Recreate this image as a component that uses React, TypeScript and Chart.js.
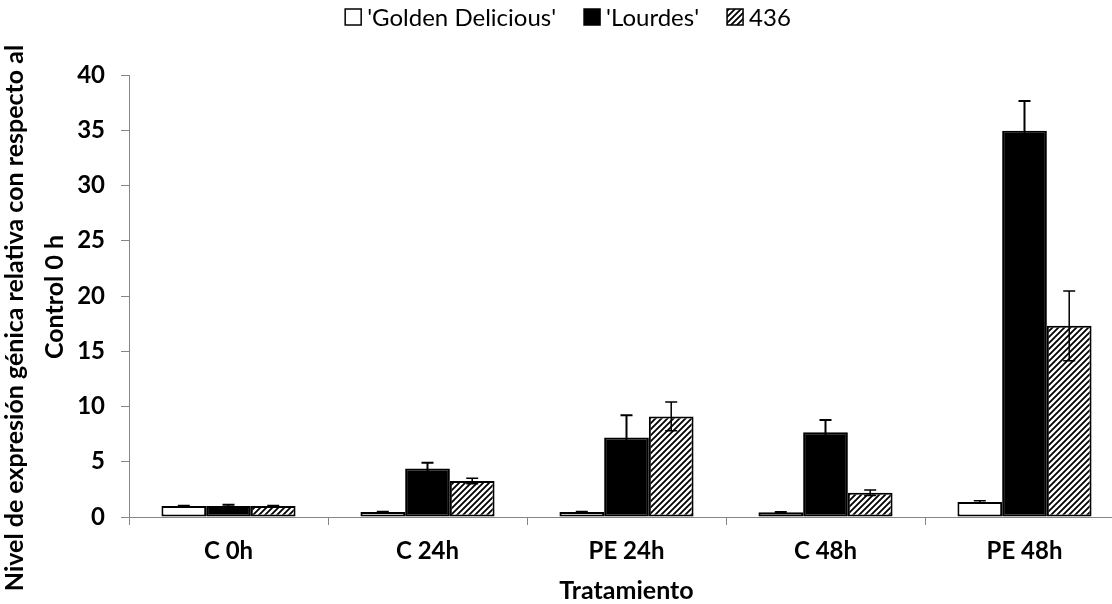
import React, { useEffect, useRef } from 'react';
import { Chart, registerables } from 'chart.js';

Chart.register(...registerables);

const categories = ['C 0h', 'C 24h', 'PE 24h', 'C 48h', 'PE 48h'];
const seriesNames = ["'Golden Delicious'", "'Lourdes'", '436'];
const golden = [1.0, 0.45, 0.45, 0.42, 1.36];
const goldenErr = [0.05, 0.05, 0.05, 0.05, 0.1];
const lourdes = [1.0, 4.4, 7.2, 7.67, 34.95];
const lourdesErr = [0.1, 0.5, 2.0, 1.1, 2.7];
const s436 = [1.0, 3.25, 9.1, 2.2, 17.3];
const s436Err = [0.05, 0.25, 1.3, 0.25, 3.15];
const yMin = 0;
const yMax = 40;
const yStep = 5;
const xTitle = 'Tratamiento';
const yTitleLines = ['Nivel de expresión génica relativa con respecto al', 'Control 0 h'];

const FONT = 'Lato, "Open Sans", sans-serif';

function makeHatch(): CanvasPattern | string {
  const c = document.createElement('canvas');
  c.width = 6;
  c.height = 6;
  const g = c.getContext('2d');
  if (!g) return '#888';
  g.fillStyle = '#fff';
  g.fillRect(0, 0, 6, 6);
  g.strokeStyle = '#000';
  g.lineWidth = 1.8;
  g.beginPath();
  g.moveTo(-1, 7);
  g.lineTo(7, -1);
  g.moveTo(-1, 1);
  g.lineTo(1, -1);
  g.moveTo(5, 7);
  g.lineTo(7, 5);
  g.stroke();
  return g.createPattern(c, 'repeat') || '#888';
}

export default function App() {
  const ref = useRef<HTMLCanvasElement | null>(null);

  useEffect(() => {
    const canvas = ref.current;
    if (!canvas) return;
    const hatch = makeHatch();
    const errs = [goldenErr, lourdesErr, s436Err];
    const errWidths = [1.5, 2, 1.5];
    const fills: any[] = ['#fff', '#000', hatch];

    const decor = {
      id: 'decor',
      afterDatasetsDraw(chart: any) {
        const ctx = chart.ctx;
        const ys = chart.scales.y;
        ctx.save();
        ctx.strokeStyle = '#000';
        chart.data.datasets.forEach((ds: any, i: number) => {
          const meta = chart.getDatasetMeta(i);
          meta.data.forEach((el: any, j: number) => {
            const v = ds.data[j];
            const e = errs[i][j];
            const x = el.x;
            const yt = ys.getPixelForValue(v + e);
            const yb = ys.getPixelForValue(v - e);
            ctx.lineWidth = errWidths[i];
            ctx.beginPath();
            ctx.moveTo(x, yt);
            ctx.lineTo(x, yb);
            ctx.moveTo(x - 6, yt);
            ctx.lineTo(x + 6, yt);
            ctx.moveTo(x - 6, yb);
            ctx.lineTo(x + 6, yb);
            ctx.stroke();
          });
        });
        ctx.restore();
      },
      afterDraw(chart: any) {
        const ctx = chart.ctx;
        const area = chart.chartArea;
        ctx.save();
        ctx.fillStyle = '#000';
        // Legend
        ctx.font = `24px ${FONT}`;
        ctx.textBaseline = 'middle';
        ctx.textAlign = 'left';
        const box = 16;
        const gapBT = 6;
        const gapItems = 28;
        const widths = seriesNames.map((n) => ctx.measureText(n).width);
        const total = widths.reduce((a, w) => a + box + gapBT + w, 0) + gapItems * (seriesNames.length - 1);
        let lx = 568 - total / 2;
        const ly = 17;
        seriesNames.forEach((n, i) => {
          ctx.fillStyle = fills[i];
          ctx.fillRect(lx, ly - box / 2, box, box);
          ctx.strokeStyle = '#000';
          ctx.lineWidth = 1.5;
          ctx.strokeRect(lx, ly - box / 2, box, box);
          ctx.fillStyle = '#000';
          ctx.fillText(n, lx + box + gapBT, ly + 1);
          lx += box + gapBT + widths[i] + gapItems;
        });
        // X title
        ctx.font = `bold 25px ${FONT}`;
        ctx.textAlign = 'center';
        ctx.textBaseline = 'middle';
        ctx.fillText(xTitle, (area.left + area.right) / 2, 591);
        // Y title
        ctx.textBaseline = 'alphabetic';
        const yPos = [
          [23, 318],
          [63, 297],
        ];
        yTitleLines.forEach((t, i) => {
          ctx.save();
          ctx.translate(yPos[i][0], yPos[i][1]);
          ctx.rotate(-Math.PI / 2);
          ctx.fillText(t, 0, 0);
          ctx.restore();
        });
        ctx.restore();
      },
    };

    const common = { borderColor: '#000', borderWidth: 2, borderSkipped: false, categoryPercentage: 0.674, barPercentage: 1.0 };

    const chart = new Chart(canvas, {
      type: 'bar',
      data: {
        labels: categories,
        datasets: [
          { label: seriesNames[0], data: golden, backgroundColor: '#fff', ...common },
          { label: seriesNames[1], data: lourdes, backgroundColor: '#000', ...common },
          { label: seriesNames[2], data: s436, backgroundColor: hatch as any, ...common },
        ] as any,
      },
      options: {
        responsive: false,
        animation: false,
        layout: { padding: { top: 75, left: 0, right: 6, bottom: 0 } },
        plugins: { legend: { display: false }, tooltip: { enabled: false } },
        scales: {
          x: {
            grid: { display: true, drawOnChartArea: false, drawTicks: true, tickLength: 8, color: '#868686', offset: true },
            border: { display: true, color: '#868686', width: 1 },
            ticks: { color: '#000', padding: 12, font: { family: FONT, size: 24, weight: 'bold' } },
            afterFit: (s: any) => {
              s.height = 87;
            },
          },
          y: {
            min: yMin,
            max: yMax,
            grid: { display: true, drawOnChartArea: false, drawTicks: true, tickLength: 8, color: '#868686' },
            border: { display: true, color: '#868686', width: 1 },
            ticks: { stepSize: yStep, color: '#000', padding: 16, font: { family: FONT, size: 24, weight: 'bold' } },
            afterFit: (s: any) => {
              s.width = 129;
            },
          },
        },
      } as any,
      plugins: [decor],
    });
    return () => chart.destroy();
  }, []);

  return (
    <div style={{ position: 'fixed', left: 0, top: 0, width: 1112, height: 604, overflow: 'hidden', background: '#fff' }}>
      <canvas ref={ref} width={1130} height={604} style={{ display: 'block' }} />
    </div>
  );
}
